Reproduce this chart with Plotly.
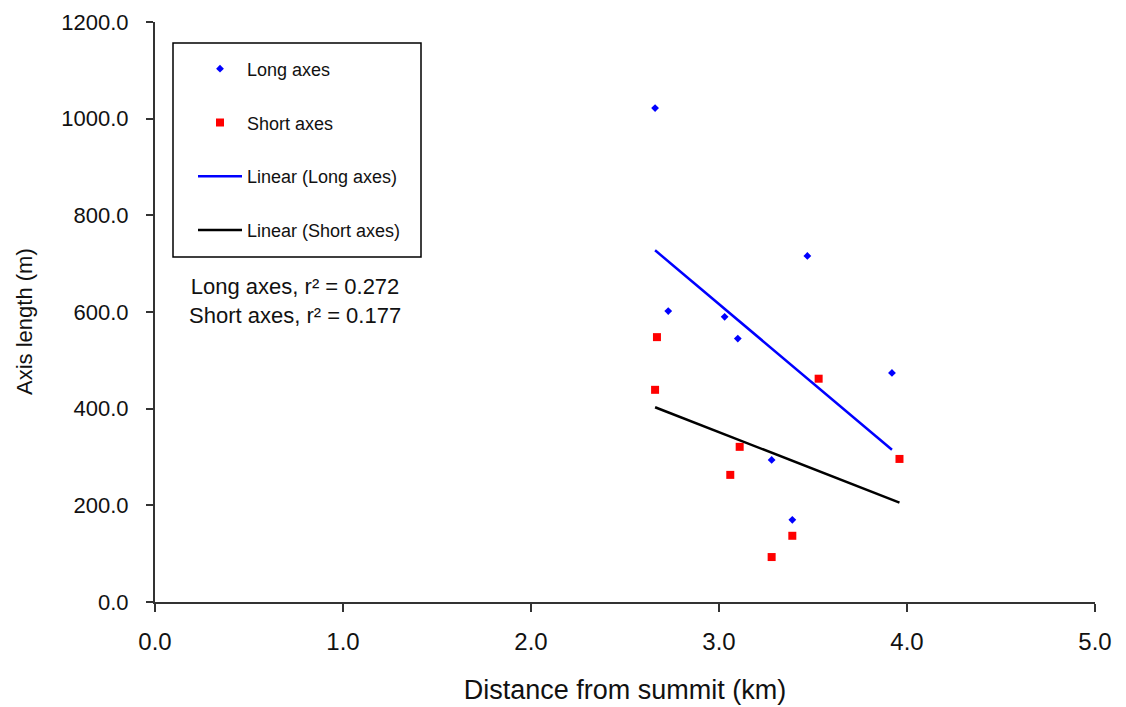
import numpy as np
import plotly.graph_objects as go

# ---- data ----
long_x = [2.66, 2.73, 3.03, 3.10, 3.28, 3.39, 3.47, 3.92]
long_y = [1022, 602, 590, 545, 294, 170, 716, 474]
short_x = [2.67, 2.66, 3.11, 3.06, 3.53, 3.96, 3.28, 3.39]
short_y = [548, 439, 321, 263, 462, 296, 93, 137]
x_ticks = [0, 1, 2, 3, 4, 5]
y_ticks = [0, 200, 400, 600, 800, 1000, 1200]
r2_text = ["Long axes, r\u00b2 = 0.272", "Short axes, r\u00b2 = 0.177"]

# ---- linear fits (trendlines) ----
def fit_line(xs, ys):
    m, b = np.polyfit(xs, ys, 1)
    xe = np.array([min(xs), max(xs)])
    return xe, m * xe + b

lx, ly = fit_line(long_x, long_y)
sx, sy = fit_line(short_x, short_y)

# ---- layout geometry (pixels) ----
W, H = 1126, 707
ML, MR, MT, MB = 155, 31, 22, 105
PW, PH = W - ML - MR, H - MT - MB

def px(xp):
    return (xp - ML) / PW

def py(yp):
    return (H - MB - yp) / PH

TXT = "#111111"
FONT = "Liberation Sans, Arial, sans-serif"

fig = go.Figure()
fig.add_trace(go.Scatter(x=long_x, y=long_y, mode="markers", name="Long axes",
                         legendgroup="a",
                         marker=dict(symbol="diamond", size=6, color="#0000FF",
                                     line=dict(width=0))))
fig.add_trace(go.Scatter(x=short_x, y=short_y, mode="markers", name="Short axes",
                         legendgroup="b",
                         marker=dict(symbol="square", size=8, color="#FF0000",
                                     line=dict(width=0))))
fig.add_trace(go.Scatter(x=lx, y=ly, mode="lines", name="Linear (Long axes)",
                         legendgroup="c",
                         line=dict(color="#0000FF", width=2.5)))
fig.add_trace(go.Scatter(x=sx, y=sy, mode="lines", name="Linear (Short axes)",
                         legendgroup="d",
                         line=dict(color="#000000", width=2.5)))

fig.update_layout(
    width=W, height=H,
    margin=dict(l=ML, r=MR, t=MT, b=MB, pad=0, autoexpand=False),
    paper_bgcolor="white", plot_bgcolor="white",
    font=dict(family=FONT, color=TXT),
    showlegend=True,
    legend=dict(x=px(193), y=py(50.5), xanchor="left", yanchor="top",
                bgcolor="rgba(0,0,0,0)", borderwidth=0,
                font=dict(size=18, color=TXT, family=FONT),
                itemwidth=44,
                tracegroupgap=27.4, traceorder="grouped"),
    xaxis=dict(range=[0, 5], tickvals=x_ticks, tickformat=".1f",
               showgrid=False, zeroline=False, automargin=False,
               showline=True, linecolor="#333333", linewidth=2,
               ticks="outside", ticklen=8, tickwidth=2, tickcolor="#333333",
               tickfont=dict(size=24, color=TXT),
               ticklabelstandoff=9,
               title=dict(text="Distance from summit (km)",
                          font=dict(size=27, color=TXT), standoff=26)),
    yaxis=dict(range=[0, 1200], tickvals=y_ticks, tickformat=".1f",
               showgrid=False, zeroline=False, automargin=False,
               showline=True, linecolor="#333333", linewidth=2,
               ticks="outside", ticklen=7, tickwidth=2, tickcolor="#333333",
               tickfont=dict(size=22, color=TXT),
               ticklabelstandoff=13),
    shapes=[dict(type="rect", xref="paper", yref="paper",
                 x0=px(173), x1=px(421), y0=py(257), y1=py(43),
                 line=dict(color="#000000", width=1.5), fillcolor="rgba(0,0,0,0)")],
    annotations=[
        dict(xref="paper", yref="paper", x=px(295), y=py(301),
             xanchor="center", yanchor="middle", align="center",
             showarrow=False, text="<br>".join(r2_text),
             font=dict(size=22, color=TXT)),
        dict(xref="paper", yref="paper", x=px(25), y=py(322),
             xanchor="center", yanchor="middle", textangle=-90,
             showarrow=False, text="Axis length (m)",
             font=dict(size=22, color=TXT)),
    ],
)

fig.write_html("out.html")
